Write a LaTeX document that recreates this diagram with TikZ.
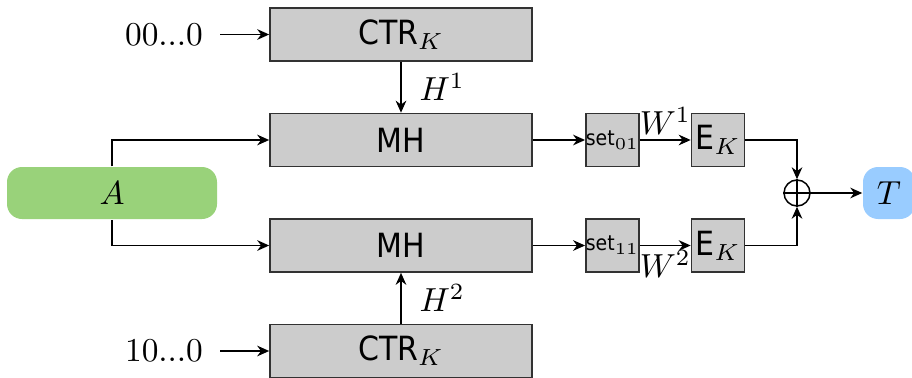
\documentclass[tikz,border=0pt]{standalone}
\usepackage{fontspec}
\setsansfont{DejaVu Sans Condensed}
\usetikzlibrary{arrows.meta}
\tikzset{>={Stealth[length=3.6pt,width=3.2pt]}}
\definecolor{mygray}{RGB}{204, 204, 204}
\definecolor{mydark}{RGB}{50, 50, 50}
\definecolor{mygreen}{RGB}{153, 210, 122}
\definecolor{myblue}{RGB}{153, 204, 255}

\begin{document}
\begin{tikzpicture}[
    x = 0.3pt, y = 0.3pt,
    line width = 0.45pt,
    blk/.style = {draw = mydark, fill = mygray, line width = 0.5pt, inner sep = 0pt,
                  minimum width = 78.6pt, minimum height = 15.9pt, font = \sffamily},
    sq/.style = {draw = mydark, fill = mygray, line width = 0.5pt, inner sep = 0pt,
                 minimum width = 15.9pt, minimum height = 15.9pt},
    setbox/.style = {sq, font = \fontsize{6.3pt}{7pt}\selectfont\sffamily},
    io/.style = {rounded corners = 4.5pt, inner sep = 0pt, minimum height = 15.6pt},
    cnt/.style = {inner sep = 5pt},
]
\useasboundingbox (0,0) rectangle (912,377);

% counters and hashes
\node[blk] (ctr1) at (401, 342.5) {CTR$_K$};
\node[blk] (mh1) at (401, 237) {MH};
\node[blk] (mh2) at (401, 131.5) {MH};
\node[blk] (ctr2) at (401, 26) {CTR$_K$};

\node[cnt] (zero1) at (164, 342.5) {00...0};
\node[cnt] (zero2) at (164, 26) {10...0};

\node[io, fill = mygreen, minimum width = 63pt] (msg) at (112, 184) {$A$};

% set and encrypt
\node[setbox] (set1) at (612.5, 237) {set$_{01}$};
\node[sq, font = \sffamily] (enc1) at (718, 237) {E$_K$};
\node[setbox] (set2) at (612.5, 131.5) {set$_{11}$};
\node[sq, font = \sffamily] (enc2) at (718, 131.5) {E$_K$};

\node[draw, circle, inner sep = 0pt, minimum size = 7.8pt] (xor) at (797, 184) {};
\draw (xor.north) -- (xor.south) (xor.west) -- (xor.east);

\node[io, fill = myblue, minimum width = 15.6pt] (tag) at (889, 184) {$T$};

\draw[->] (zero1) -- (ctr1);
\draw[->] (zero2) -- (ctr2);
\draw[->] (ctr1) -- node[right = 2pt] {$H^1$} (mh1);
\draw[->] (ctr2) -- node[right = 2pt] {$H^2$} (mh2);

\draw[->] (msg.north) |- (mh1.west);
\draw[->] (msg.south) |- (mh2.west);

\draw[->] (mh1) -- (set1);
\draw[->] (mh2) -- (set2);
\draw[->] (set1) -- node[above = -2pt] {$W^1$} (enc1);
\draw[->] (set2) -- node[below = -2pt] {$W^2$} (enc2);

\draw[->] (enc1.east) -| (xor.north);
\draw[->] (enc2.east) -| (xor.south);
\draw[->] (xor) -- (tag);

\end{tikzpicture}
\end{document}
